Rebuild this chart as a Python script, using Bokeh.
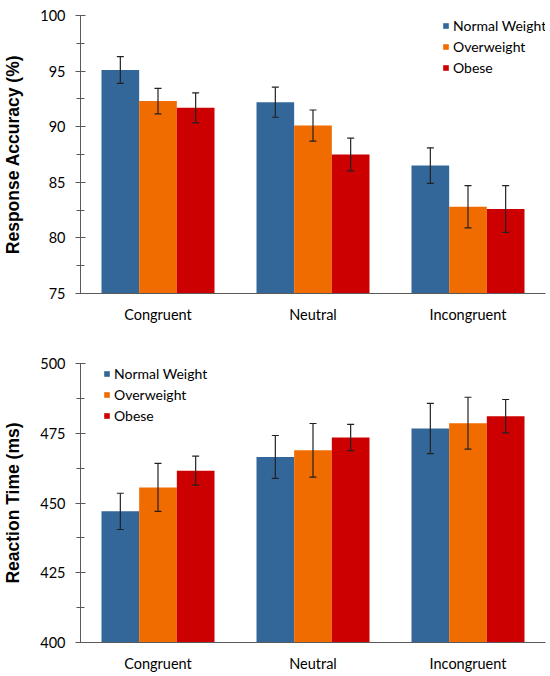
from bokeh.plotting import figure
from bokeh.models import (ColumnDataSource, Range1d, SingleIntervalTicker, Whisker,
                          TeeHead, Legend, LegendItem)
from bokeh.transform import dodge
from bokeh.layouts import column
from bokeh.embed import file_html
from bokeh.resources import INLINE

conditions = ["Congruent", "Neutral", "Incongruent"]
groups = ["Normal Weight", "Overweight", "Obese"]
colors = ["#336699", "#F06B00", "#CC0000"]

acc_normal = [95.1, 92.2, 86.5]
acc_over = [92.3, 90.1, 82.8]
acc_obese = [91.7, 87.5, 82.6]
acc_err_normal = [1.2, 1.35, 1.6]
acc_err_over = [1.15, 1.4, 1.9]
acc_err_obese = [1.35, 1.47, 2.1]

rt_normal = [447.0, 466.5, 476.7]
rt_over = [455.6, 468.9, 478.6]
rt_obese = [461.6, 473.5, 481.1]
rt_err_normal = [6.5, 7.7, 9.0]
rt_err_over = [8.6, 9.6, 9.3]
rt_err_obese = [5.2, 4.7, 6.0]

BAR_W = 0.243
OFFSETS = [-BAR_W, 0.0, BAR_W]
TICK_FONT = "Lato"
AXIS_COLOR = "#595959"
ERR_COLOR = "#222222"


def make_chart(values, errors, y_start, y_end, interval, ylabel, height,
               border_top, border_bottom, legend_x, legend_top_offset):
    p = figure(x_range=conditions, width=550, height=height,
               output_backend="svg", toolbar_location=None,
               min_border_left=77, min_border_right=5,
               min_border_top=border_top, min_border_bottom=border_bottom)
    p.y_range = Range1d(y_start, y_end)
    p.x_range.range_padding = 0
    p.outline_line_color = None
    p.xgrid.grid_line_color = None
    p.ygrid.grid_line_color = None
    p.background_fill_color = "white"
    p.border_fill_color = "white"

    items = []
    for vals, errs, off, col, name in zip(values, errors, OFFSETS, colors, groups):
        src = ColumnDataSource(dict(
            cond=conditions, val=vals,
            upper=[v + e for v, e in zip(vals, errs)],
            lower=[v - e for v, e in zip(vals, errs)]))
        r = p.vbar(x=dodge("cond", off, range=p.x_range), top="val",
                   bottom=y_start, width=BAR_W, source=src,
                   fill_color=col, line_color=None)
        items.append(LegendItem(label=name, renderers=[r]))
        w = Whisker(source=src, base=dodge("cond", off, range=p.x_range),
                    upper="upper", lower="lower", dimension="height",
                    line_color=ERR_COLOR, line_width=1.2, level="overlay",
                    upper_head=TeeHead(size=7, line_color=ERR_COLOR, line_width=1.2),
                    lower_head=TeeHead(size=7, line_color=ERR_COLOR, line_width=1.2))
        p.add_layout(w)

    # y axis
    yax = p.yaxis[0]
    yax.ticker = SingleIntervalTicker(interval=interval, num_minor_ticks=2)
    yax.axis_line_color = AXIS_COLOR
    yax.major_tick_line_color = AXIS_COLOR
    yax.minor_tick_line_color = AXIS_COLOR
    yax.major_tick_in = 5
    yax.major_tick_out = 5
    yax.minor_tick_in = 4
    yax.minor_tick_out = 4
    yax.major_label_standoff = 10
    yax.major_label_text_font = TICK_FONT
    yax.major_label_text_font_size = "14.5px"
    yax.major_label_text_color = "#000000"
    yax.axis_label = ylabel
    yax.axis_label_text_font = "Liberation Sans"
    yax.axis_label_text_font_style = "bold"
    yax.axis_label_text_font_size = "17.5px"
    yax.axis_label_text_color = "#000000"
    yax.axis_label_standoff = 14

    # x axis
    xax = p.xaxis[0]
    xax.axis_line_color = AXIS_COLOR
    xax.major_tick_line_color = None
    xax.minor_tick_line_color = None
    xax.major_tick_in = 0
    xax.major_tick_out = 0
    xax.major_label_standoff = 12
    xax.major_label_text_font = TICK_FONT
    xax.major_label_text_font_size = "14.5px"
    xax.major_label_text_color = "#000000"

    frame_h = height - border_top - border_bottom
    label_h = 17
    spacing = 4
    legend_h = 3 * label_h + 2 * spacing
    legend = Legend(items=items,
                    location=(legend_x, frame_h - legend_h - legend_top_offset),
                    glyph_width=7, glyph_height=7, label_standoff=4,
                    label_height=label_h, spacing=spacing, padding=0,
                    border_line_color=None, background_fill_alpha=0,
                    label_text_font=TICK_FONT, label_text_font_size="14px",
                    label_text_color="#000000")
    p.add_layout(legend)
    return p


p1 = make_chart([acc_normal, acc_over, acc_obese],
                [acc_err_normal, acc_err_over, acc_err_obese],
                75, 100, 5, "Response Accuracy (%)", 336, 15, 43, 362, 1.5)
p2 = make_chart([rt_normal, rt_over, rt_obese],
                [rt_err_normal, rt_err_over, rt_err_obese],
                400, 500, 25, "Reaction Time (ms)", 340, 27, 34, 23, 1.8)

layout = column(p1, p2, spacing=0)
open("out.html", "w").write(file_html(layout, INLINE))
